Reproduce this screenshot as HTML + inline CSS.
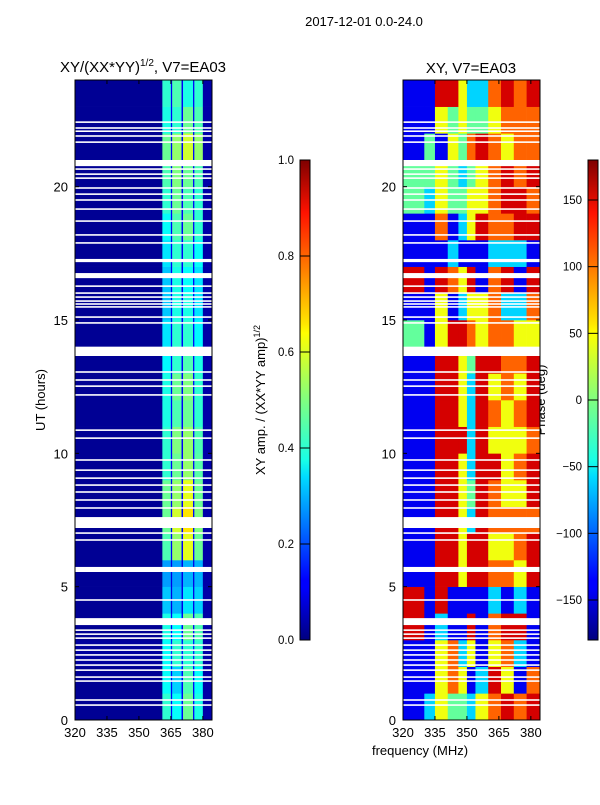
<!DOCTYPE html>
<html><head><meta charset="utf-8">
<style>
body{margin:0;background:#fff;}
svg text{font-family:"Liberation Sans",sans-serif;fill:#000;}
</style></head>
<body>
<svg id="fig" width="600" height="800" viewBox="0 0 600 800" xmlns="http://www.w3.org/2000/svg">
<rect width="600" height="800" fill="#fff"/>
<defs>
<linearGradient id="jet" x1="0" y1="1" x2="0" y2="0">
<stop offset="0" stop-color="#00007f"/><stop offset="0.11" stop-color="#0000ff"/>
<stop offset="0.125" stop-color="#0000ff"/><stop offset="0.34" stop-color="#00dbff"/>
<stop offset="0.375" stop-color="#19ffe6"/><stop offset="0.5" stop-color="#80ff80"/>
<stop offset="0.64" stop-color="#ffff00"/><stop offset="0.66" stop-color="#ffe500"/>
<stop offset="0.89" stop-color="#ff1200"/><stop offset="1" stop-color="#7f0000"/>
</linearGradient>
</defs>
<text x="364" y="26" font-size="13" text-anchor="middle">2017-12-01 0.0-24.0</text>
<text x="143" y="72" font-size="15" text-anchor="middle">XY/(XX*YY)<tspan font-size="10" dy="-6">1/2</tspan><tspan dy="6">, V7=EA03</tspan></text>
<text x="471" y="73" font-size="15" text-anchor="middle">XY, V7=EA03</text>
<text transform="translate(45,400) rotate(-90)" font-size="13" text-anchor="middle">UT (hours)</text>
<text transform="translate(265,400) rotate(-90)" font-size="13" text-anchor="middle">XY amp. / (XX*YY amp)<tspan font-size="9" dy="-5">1/2</tspan></text>
<text transform="translate(545,400) rotate(-90)" font-size="13" text-anchor="middle">Phase (deg)</text>
<text x="420" y="755" font-size="13" text-anchor="middle">frequency (MHz)</text>
<g id="left"></g>
<g id="right"></g>
<g id="cbars"></g>
</svg>
<script>
// amplitude panel: frequency column edges (MHz) and hourly values (row 0 = 0-1 h)
const ampFreqEdges=[320,361,365,365.6,370,370.7,375.4,376,380,384.3];
const ampRows=[
[0.02,0.42,0.12,0.38,0.12,0.48,0.12,0.40,0.04],
[0.02,0.38,0.12,0.33,0.12,0.45,0.12,0.38,0.04],
[0.03,0.38,0.15,0.42,0.15,0.42,0.15,0.42,0.04],
[0.02,0.40,0.12,0.38,0.12,0.48,0.12,0.45,0.04],
[0.02,0.32,0.10,0.30,0.10,0.35,0.10,0.33,0.04],
[0.02,0.28,0.10,0.28,0.10,0.30,0.10,0.30,0.04],
[0.02,0.45,0.12,0.52,0.12,0.60,0.12,0.48,0.04],
[0.02,0.48,0.12,0.58,0.12,0.65,0.12,0.50,0.04],
[0.02,0.48,0.12,0.52,0.12,0.60,0.12,0.48,0.04],
[0.02,0.42,0.12,0.48,0.12,0.52,0.12,0.46,0.04],
[0.02,0.42,0.12,0.50,0.12,0.52,0.12,0.45,0.04],
[0.02,0.40,0.12,0.45,0.12,0.48,0.12,0.42,0.04],
[0.02,0.40,0.12,0.48,0.12,0.50,0.12,0.42,0.04],
[0.02,0.37,0.12,0.42,0.12,0.45,0.12,0.40,0.04],
[0.02,0.35,0.12,0.42,0.12,0.42,0.12,0.37,0.04],
[0.02,0.32,0.12,0.40,0.12,0.40,0.12,0.35,0.04],
[0.02,0.32,0.12,0.40,0.12,0.38,0.12,0.35,0.04],
[0.02,0.35,0.12,0.42,0.12,0.42,0.12,0.38,0.04],
[0.02,0.38,0.12,0.45,0.12,0.48,0.12,0.42,0.04],
[0.02,0.42,0.12,0.48,0.12,0.45,0.12,0.42,0.04],
[0.02,0.45,0.12,0.50,0.12,0.48,0.12,0.45,0.04],
[0.02,0.48,0.12,0.52,0.12,0.58,0.12,0.52,0.04],
[0.02,0.40,0.12,0.42,0.12,0.48,0.12,0.45,0.04],
[0.02,0.42,0.12,0.45,0.12,0.40,0.12,0.42,0.04]
];
// phase panel: frequency column edges and hourly phases (deg)
const phFreqEdges=[320,330,335,341,346,350,354,360,366,372,378,384.3];
const phRows=[
[-140,-60,40,-10,-10,-60,40,100,150,100,150],
[-140,-140,40,100,40,-140,-60,150,40,-140,100],
[-140,-140,40,100,-60,40,-140,40,100,-60,-140],
[150,-140,-60,-140,-140,150,-140,100,150,150,-140],
[150,-140,150,-140,-140,-140,-140,-60,-140,-60,-140],
[-140,-140,150,150,40,150,150,100,100,40,150],
[-140,-140,150,150,40,150,150,40,40,100,150],
[-140,-140,150,150,40,-60,150,100,100,100,100],
[-140,-140,150,150,40,-10,150,100,40,40,150],
[-140,-140,150,150,40,-60,150,150,40,100,150],
[-140,-140,150,150,150,-60,150,40,40,40,100],
[-140,-140,150,150,40,-60,150,100,40,100,150],
[-140,-140,150,150,40,-60,150,40,100,40,150],
[-140,-140,150,150,40,-10,150,150,100,100,150],
[-10,-140,40,150,150,100,40,100,100,40,40],
[-140,-140,40,-140,-60,40,40,100,-60,-60,100],
[150,-140,150,100,40,150,-140,100,150,-140,150],
[-140,-140,-140,-60,-140,-140,-140,-60,-60,-60,-140],
[-140,-140,100,-140,-60,40,150,100,100,150,150],
[-10,-60,40,-10,-10,40,40,100,150,150,100],
[-10,-10,40,-10,-60,-10,40,100,150,100,150],
[-140,-10,-140,40,-10,100,150,100,40,100,100],
[-140,-140,40,-10,40,-10,-10,40,100,100,100],
[-140,-140,150,150,40,-60,-60,100,150,100,150]
];
// flagged (blank) time ranges, hours
const gapStart=[22.39,22.17,22.05,21.87,21.64,20.77,20.63,20.44,20.29,19.92,19.69,19.47,19.13,18.68,18.16,17.86,17.17,16.57,16.24,15.98,15.83,15.68,15.57,15.46,15.08,14.86,13.65,13.02,12.72,12.49,12.16,10.84,10.54,9.72,9.34,9.04,8.78,8.52,8.22,7.92,7.2,6.98,6.72,5.55,4.47,3.56,3.34,3.19,3.04,2.78,2.59,2.41,2.22,2.03,1.84,1.58,1.43,0.72,0.53];
const gapEnd=[22.45,22.23,22.11,21.93,21.70,21.0,20.69,20.50,20.35,19.98,19.75,19.53,19.19,18.74,18.22,17.92,17.29,16.76,16.30,16.04,15.89,15.74,15.63,15.52,15.14,14.92,14.0,13.08,12.78,12.55,12.22,10.90,10.60,9.78,9.40,9.10,8.84,8.58,8.28,7.98,7.61,7.04,6.78,5.74,4.53,3.82,3.40,3.25,3.10,2.84,2.65,2.47,2.28,2.09,1.90,1.64,1.49,0.78,0.59];
const xTicks=[320,335,350,365,380];
const yTicks=[0,5,10,15,20];
const ampTicks=[0.0,0.2,0.4,0.6,0.8,1.0];
const phTicks=[-150,-100,-50,0,50,100,150];

const NS="http://www.w3.org/2000/svg";
function mk(tag,attrs,parent){const e=document.createElementNS(NS,tag);for(const k in attrs)e.setAttribute(k,attrs[k]);parent.appendChild(e);return e;}
function jet(t){t=Math.max(0,Math.min(1,t));const c=v=>Math.round(255*Math.max(0,Math.min(1,v)));
 return `rgb(${c(1.5-Math.abs(4*t-3))},${c(1.5-Math.abs(4*t-2))},${c(1.5-Math.abs(4*t-1))})`;}
const PT=80,PB=720,H0=24;
const yScale=h=>PB-(PB-PT)*h/H0;
function panel(g,x0,x1,edges,rows,norm,nm){
 const xs=f=>x0+(x1-x0)*(f-320)/(384.3-320);
 rows.forEach((row,hr)=>{row.forEach((v,ci)=>{
  const r=mk('rect',{x:xs(edges[ci]),y:yScale(hr+1),width:xs(edges[ci+1])-xs(edges[ci])+0.3,height:yScale(hr)-yScale(hr+1)+0.3,fill:jet(norm(v))},g);
  
  
 });});
 gapStart.forEach((s,i)=>{
  const r=mk('rect',{x:x0,y:yScale(gapEnd[i]),width:x1-x0,height:Math.max(1.4,yScale(gapStart[i])-yScale(gapEnd[i])),fill:'#fff'},g);
  
  
 });
 const fr=mk('rect',{x:x0,y:PT,width:x1-x0,height:PB-PT,fill:'none',stroke:'#000','stroke-width':1},g);
 
 
 xTicks.forEach(t=>{const x=xs(t);
  mk('line',{x1:x,y1:PB,x2:x,y2:PB-4,stroke:'#000'},g);mk('line',{x1:x,y1:PT,x2:x,y2:PT+4,stroke:'#000'},g);
  const tx=mk('text',{x:x,y:PB+17,'font-size':13,'text-anchor':'middle'},g);tx.textContent=t;
  
  });
 yTicks.forEach(t=>{const y=yScale(t);
  mk('line',{x1:x0,y1:y,x2:x0+4,y2:y,stroke:'#000'},g);mk('line',{x1:x1,y1:y,x2:x1-4,y2:y,stroke:'#000'},g);
  const tx=mk('text',{x:x0-7,y:y+5,'font-size':13,'text-anchor':'end'},g);tx.textContent=t;
  
  });
}
panel(document.getElementById('left'),75,212,ampFreqEdges,ampRows,v=>v,'amp');
panel(document.getElementById('right'),403,540,phFreqEdges,phRows,v=>(v+180)/360,'phase');
function cbar(x,ticks,norm,fmt,nm){
 const g=document.getElementById('cbars');
 const r=mk('rect',{x:x,y:160,width:10,height:480,fill:'url(#jet)',stroke:'#000','stroke-width':1},g);
 
 
 ticks.forEach(t=>{const y=640-480*norm(t);
  mk('line',{x1:x,y1:y,x2:x+10,y2:y,stroke:'#000'},g);
  const tx=mk('text',{x:x-6,y:y+4,'font-size':11.5,'text-anchor':'end'},g);tx.textContent=fmt(t);
  
  });
}
cbar(300,ampTicks,v=>v,v=>v.toFixed(1),'amp-colorbar');
cbar(588,phTicks,v=>(v+180)/360,v=>v<0?'\u2212'+(-v):String(v),'phase-colorbar');
</script>
</body></html>
